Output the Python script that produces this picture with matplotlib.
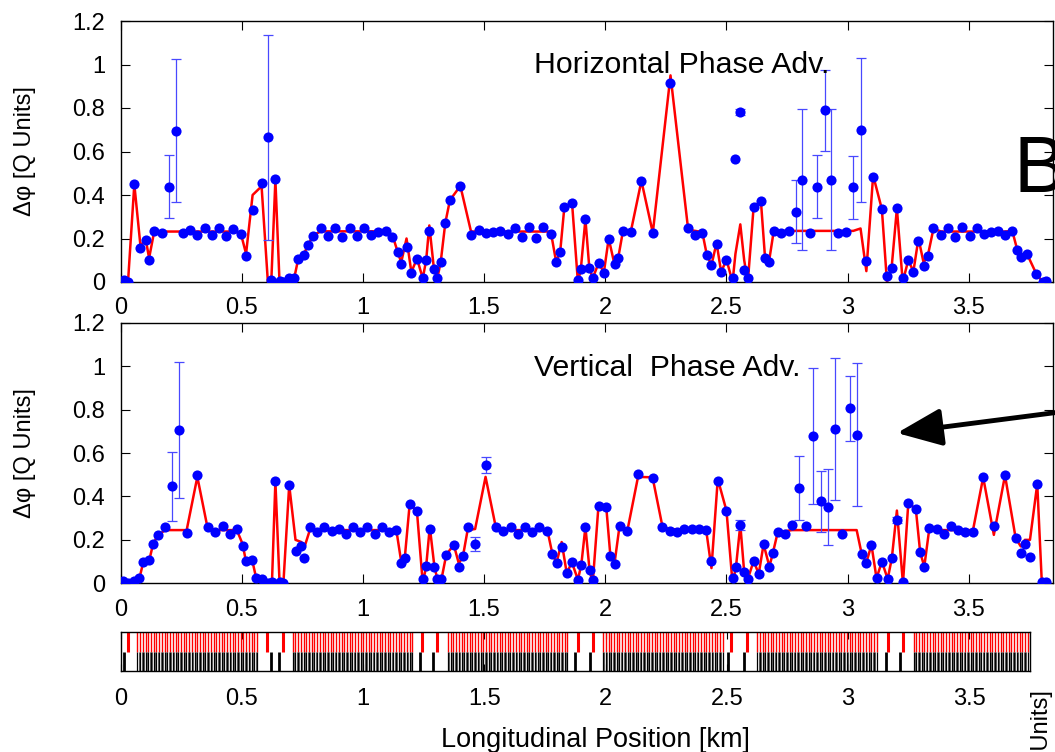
import numpy as np
import matplotlib
matplotlib.use('Agg')
import matplotlib.pyplot as plt
from matplotlib.patches import FancyArrowPatch

plt.rcParams['font.family'] = ['Liberation Sans', 'DejaVu Sans']

# ---- horizontal phase advance (top panel) ----
h_s = [0.014, 0.031, 0.057, 0.082, 0.105, 0.118, 0.139, 0.170, 0.199, 0.229,
       0.257, 0.287, 0.317, 0.347, 0.376, 0.406, 0.436, 0.466, 0.496, 0.518,
       0.545, 0.582, 0.608, 0.622, 0.639, 0.656, 0.670, 0.696, 0.717, 0.734,
       0.757, 0.774, 0.795, 0.827, 0.857, 0.885, 0.915, 0.945, 0.974, 1.004,
       1.034, 1.063, 1.094, 1.122, 1.143, 1.158, 1.180, 1.200, 1.223, 1.247,
       1.261, 1.274, 1.293, 1.307, 1.321, 1.340, 1.359, 1.402, 1.446, 1.477,
       1.506, 1.537, 1.567, 1.597, 1.626, 1.656, 1.686, 1.716, 1.744, 1.775,
       1.797, 1.814, 1.831, 1.863, 1.887, 1.899, 1.918, 1.934, 1.948, 1.973,
       1.994, 2.014, 2.038, 2.053, 2.073, 2.105, 2.149, 2.196, 2.269, 2.342,
       2.371, 2.400, 2.419, 2.438, 2.459, 2.478, 2.500, 2.525, 2.537, 2.557,
       2.573, 2.588, 2.612, 2.642, 2.659, 2.675, 2.695, 2.726, 2.757, 2.785,
       2.813, 2.844, 2.875, 2.905, 2.933, 2.961, 2.994, 3.023, 3.053, 3.077,
       3.105, 3.141, 3.162, 3.181, 3.203, 3.227, 3.250, 3.271, 3.292, 3.313,
       3.330, 3.354, 3.385, 3.414, 3.444, 3.473, 3.503, 3.533, 3.561, 3.590,
       3.620, 3.649, 3.679, 3.700, 3.717, 3.739, 3.778, 3.804, 3.820]
h_meas = [0.008, 0.0, 0.449, 0.158, 0.192, 0.103, 0.235, 0.223, 0.439, 0.696,
          0.224, 0.241, 0.214, 0.249, 0.214, 0.247, 0.212, 0.243, 0.22, 0.12,
          0.33, 0.453, 0.665, 0.008, 0.473, 0.005, 0.0, 0.017, 0.017, 0.108,
          0.124, 0.169, 0.212, 0.25, 0.21, 0.25, 0.207, 0.25, 0.212, 0.246,
          0.215, 0.23, 0.235, 0.207, 0.14, 0.084, 0.161, 0.04, 0.108, 0.017,
          0.1, 0.235, 0.061, 0.017, 0.092, 0.272, 0.376, 0.442, 0.215, 0.241,
          0.224, 0.229, 0.235, 0.22, 0.247, 0.209, 0.255, 0.201, 0.253, 0.22,
          0.094, 0.14, 0.343, 0.361, 0.008, 0.058, 0.289, 0.066, 0.017, 0.089,
          0.043, 0.2, 0.081, 0.109, 0.235, 0.23, 0.465, 0.226, 0.917, 0.246,
          0.215, 0.226, 0.124, 0.078, 0.177, 0.046, 0.103, 0.02, 0.567, 0.782,
          0.054, 0.017, 0.346, 0.372, 0.112, 0.091, 0.235, 0.224, 0.235, 0.323,
          0.47, 0.226, 0.439, 0.79, 0.47, 0.224, 0.23, 0.436, 0.70, 0.097,
          0.484, 0.335, 0.026, 0.063, 0.338, 0.02, 0.101, 0.048, 0.189, 0.074,
          0.118, 0.246, 0.214, 0.247, 0.207, 0.253, 0.21, 0.246, 0.22, 0.232,
          0.235, 0.217, 0.235, 0.146, 0.115, 0.131, 0.038, 0.002, 0.005]
h_model = [0.0, 0.0, 0.449, 0.17, 0.19, 0.11, 0.232, 0.232, 0.232, 0.232,
           0.232, 0.232, 0.232, 0.232, 0.232, 0.232, 0.232, 0.232, 0.225, 0.13,
           0.40, 0.44, 0.0, 0.0, 0.47, 0.0, 0.0, 0.017, 0.02, 0.11,
           0.13, 0.17, 0.215, 0.233, 0.233, 0.233, 0.233, 0.233, 0.233, 0.233,
           0.233, 0.233, 0.233, 0.215, 0.14, 0.09, 0.2, 0.045, 0.108, 0.017,
           0.1, 0.26, 0.061, 0.017, 0.092, 0.272, 0.376, 0.442, 0.232, 0.232,
           0.232, 0.232, 0.232, 0.232, 0.232, 0.232, 0.232, 0.232, 0.232, 0.232,
           0.094, 0.14, 0.343, 0.361, 0.0, 0.058, 0.289, 0.066, 0.017, 0.089,
           0.043, 0.2, 0.081, 0.109, 0.235, 0.23, 0.465, 0.226, 0.95, 0.24,
           0.235, 0.23, 0.124, 0.078, 0.18, 0.046, 0.103, 0.0, 0.13, 0.265,
           0.1, 0.0, 0.346, 0.372, 0.112, 0.091, 0.235, 0.235, 0.235, 0.235,
           0.235, 0.235, 0.235, 0.235, 0.235, 0.235, 0.235, 0.235, 0.246, 0.05,
           0.49, 0.335, 0.0, 0.063, 0.338, 0.0, 0.101, 0.048, 0.2, 0.09,
           0.118, 0.246, 0.232, 0.232, 0.232, 0.232, 0.232, 0.232, 0.232, 0.232,
           0.232, 0.232, 0.235, 0.146, 0.12, 0.131, 0.038, 0.0, 0.005]
h_eb_s = [0.199, 0.229, 0.608, 2.557, 2.785, 2.813, 2.875, 2.905, 2.933, 3.023, 3.053]
h_eb_err = [0.145, 0.33, 0.47, 0.012, 0.145, 0.325, 0.145, 0.187, 0.325, 0.145, 0.33]

# ---- vertical phase advance (bottom panel) ----
v_s = [0.011, 0.031, 0.054, 0.078, 0.094, 0.119, 0.135, 0.156, 0.185, 0.213,
       0.243, 0.273, 0.317, 0.361, 0.391, 0.422, 0.450, 0.480, 0.504, 0.516,
       0.543, 0.560, 0.582, 0.608, 0.625, 0.639, 0.656, 0.672, 0.696, 0.722,
       0.746, 0.757, 0.781, 0.810, 0.841, 0.871, 0.902, 0.932, 0.959, 0.989,
       1.018, 1.048, 1.080, 1.108, 1.138, 1.158, 1.173, 1.193, 1.223, 1.247,
       1.261, 1.276, 1.295, 1.307, 1.324, 1.344, 1.375, 1.396, 1.413, 1.432,
       1.463, 1.506, 1.548, 1.580, 1.611, 1.639, 1.669, 1.699, 1.728, 1.761,
       1.782, 1.799, 1.820, 1.841, 1.862, 1.887, 1.901, 1.918, 1.935, 1.948,
       1.972, 2.004, 2.021, 2.038, 2.059, 2.091, 2.135, 2.195, 2.236, 2.267,
       2.297, 2.326, 2.356, 2.385, 2.416, 2.438, 2.464, 2.500, 2.525, 2.539,
       2.557, 2.573, 2.588, 2.612, 2.633, 2.653, 2.677, 2.691, 2.712, 2.740,
       2.771, 2.799, 2.830, 2.857, 2.888, 2.919, 2.949, 2.978, 3.008, 3.037,
       3.058, 3.077, 3.098, 3.119, 3.141, 3.165, 3.182, 3.203, 3.228, 3.250,
       3.281, 3.299, 3.316, 3.337, 3.368, 3.397, 3.427, 3.457, 3.486, 3.517,
       3.559, 3.603, 3.649, 3.693, 3.714, 3.731, 3.752, 3.782, 3.801, 3.820]
v_meas = [0.012, 0.0, 0.011, 0.023, 0.097, 0.108, 0.183, 0.223, 0.26, 0.446,
          0.706, 0.231, 0.50, 0.26, 0.234, 0.263, 0.226, 0.249, 0.174, 0.103,
          0.108, 0.023, 0.018, 0.0, 0.008, 0.469, 0.008, 0.0, 0.452, 0.149,
          0.174, 0.118, 0.258, 0.238, 0.258, 0.242, 0.251, 0.228, 0.258, 0.238,
          0.258, 0.226, 0.26, 0.234, 0.245, 0.095, 0.115, 0.365, 0.331, 0.018,
          0.078, 0.249, 0.077, 0.02, 0.018, 0.132, 0.177, 0.077, 0.126, 0.26,
          0.182, 0.545, 0.26, 0.242, 0.258, 0.228, 0.258, 0.238, 0.26, 0.242,
          0.134, 0.095, 0.166, 0.046, 0.097, 0.017, 0.085, 0.26, 0.062, 0.014,
          0.358, 0.351, 0.126, 0.091, 0.266, 0.242, 0.503, 0.485, 0.26, 0.243,
          0.238, 0.249, 0.249, 0.249, 0.246, 0.103, 0.469, 0.334, 0.023, 0.074,
          0.269, 0.051, 0.02, 0.103, 0.043, 0.183, 0.077, 0.138, 0.238, 0.226,
          0.269, 0.438, 0.265, 0.678, 0.377, 0.351, 0.709, 0.229, 0.805, 0.685,
          0.134, 0.095, 0.177, 0.023, 0.1, 0.02, 0.115, 0.292, 0.008, 0.369,
          0.343, 0.143, 0.077, 0.254, 0.251, 0.229, 0.262, 0.246, 0.238, 0.238,
          0.488, 0.266, 0.497, 0.208, 0.138, 0.18, 0.123, 0.457, 0.005, 0.005]
v_model = [0.012, 0.0, 0.011, 0.023, 0.097, 0.108, 0.183, 0.223, 0.245, 0.245,
           0.245, 0.245, 0.49, 0.245, 0.245, 0.245, 0.245, 0.245, 0.18, 0.11,
           0.108, 0.023, 0.018, 0.0, 0.008, 0.469, 0.008, 0.0, 0.452, 0.2,
           0.19, 0.16, 0.245, 0.245, 0.245, 0.245, 0.245, 0.245, 0.245, 0.245,
           0.245, 0.245, 0.245, 0.245, 0.245, 0.1, 0.12, 0.365, 0.331, 0.0,
           0.078, 0.26, 0.077, 0.02, 0.018, 0.132, 0.177, 0.09, 0.126, 0.245,
           0.25, 0.49, 0.26, 0.245, 0.245, 0.245, 0.245, 0.245, 0.245, 0.245,
           0.134, 0.095, 0.19, 0.046, 0.097, 0.017, 0.085, 0.26, 0.062, 0.0,
           0.358, 0.351, 0.126, 0.091, 0.266, 0.242, 0.49, 0.488, 0.26, 0.249,
           0.249, 0.249, 0.249, 0.249, 0.246, 0.07, 0.48, 0.334, 0.0, 0.074,
           0.27, 0.051, 0.02, 0.103, 0.043, 0.18, 0.077, 0.138, 0.238, 0.24,
           0.245, 0.245, 0.245, 0.245, 0.245, 0.245, 0.245, 0.245, 0.245, 0.245,
           0.134, 0.095, 0.177, 0.023, 0.1, 0.02, 0.115, 0.335, 0.0, 0.369,
           0.343, 0.143, 0.077, 0.254, 0.245, 0.245, 0.245, 0.245, 0.245, 0.245,
           0.488, 0.223, 0.497, 0.208, 0.17, 0.2, 0.2, 0.457, 0.0, 0.005]
v_eb_s = [0.213, 0.243, 1.463, 1.506, 2.557, 2.799, 2.857, 2.888, 2.919, 2.949, 3.008, 3.037, 3.203]
v_eb_err = [0.157, 0.315, 0.032, 0.036, 0.022, 0.148, 0.313, 0.14, 0.175, 0.327, 0.15, 0.33, 0.015]

xticks = [0, 0.5, 1, 1.5, 2, 2.5, 3, 3.5]
xtick_labels = ['0', '0.5', '1', '1.5', '2', '2.5', '3', '3.5']
yticks = [0, 0.2, 0.4, 0.6, 0.8, 1.0, 1.2]
ytick_labels = ['0', '0.2', '0.4', '0.6', '0.8', '1', '1.2']

# ---- lattice strip (arcs with regular cells, insertion quads) ----
arc_start = [0.07, 0.71, 1.35, 1.99, 2.625, 3.27]
arc_end = [0.565, 1.205, 1.845, 2.485, 3.12, 3.75]
cell_spacing = 0.0112
ins_quads = [0.029, 0.605, 0.668, 1.245, 1.305, 1.885, 1.948, 2.518, 2.585, 3.165, 3.225]
ins_dipoles = [0.015, 0.62, 0.655, 1.235, 1.29, 1.875, 1.935, 2.505, 2.57, 3.155, 3.215]

W, H = 1055, 752
fig = plt.figure(figsize=(W / 100, H / 100), dpi=100)


def box(l, t, r, b):
    # pixel rectangle -> figure fraction
    return [l / W, 1 - b / H, (r - l) / W, (b - t) / H]


def panel(ax, s, meas, model, eb_s, eb_err, title, ty):
    s = np.asarray(s)
    meas = np.asarray(meas)
    ax.plot(s, model, color='#ff0000', lw=1.8, zorder=2)
    idx = np.searchsorted(s, eb_s)
    ax.errorbar(s[idx], meas[idx], yerr=eb_err, fmt='none', ecolor='#4848ff',
                elinewidth=0.9, capsize=3.5, capthick=0.9, zorder=3)
    ax.plot(s, meas, 'o', color='#0000ff', ms=7.3, mec='none', zorder=4)
    ax.set_xlim(0, 3.847)
    ax.set_ylim(0, 1.2)
    ax.set_xticks(xticks, xtick_labels)
    ax.set_yticks(yticks, ytick_labels)
    ax.tick_params(direction='in', length=6.5, width=0.8, top=True, right=True,
                   labelsize=17, pad=11)
    for sp in ax.spines.values():
        sp.set_linewidth(1.0)
    ax.set_ylabel('\u0394\u03c6 [Q Units]', fontsize=17)
    ax.yaxis.set_label_coords(-0.091, 0.5)
    ax.text(1.705, ty, title, fontsize=21.8, va='baseline', ha='left')


ax_h = fig.add_axes(box(120.5, 21, 1053, 282))
panel(ax_h, h_s, h_meas, h_model, h_eb_s, h_eb_err, 'Horizontal Phase Adv.', 0.96)

ax_v = fig.add_axes(box(120.5, 322.7, 1053, 583.3))
panel(ax_v, v_s, v_meas, v_model, v_eb_s, v_eb_err, 'Vertical  Phase Adv.', 0.955)

# lattice strip
ax_l = fig.add_axes(box(120.5, 632, 1030, 671))
for a, b in zip(arc_start, arc_end):
    q = np.arange(a, b, cell_spacing)
    ax_l.vlines(q, 0.5, 1.0, color='#ff0000', lw=1.0)
    ax_l.vlines(q, 0.0, 0.5, color='black', lw=0.9)
    ax_l.vlines(q[:-1] + cell_spacing / 2, 0.0, 0.5, color='#555555', lw=0.7)
ax_l.vlines(ins_quads, 0.5, 1.0, color='#ff0000', lw=2.2)
ax_l.vlines(ins_dipoles, 0.0, 0.5, color='black', lw=2.0)
ax_l.set_xlim(0, 3.75)
ax_l.set_ylim(0, 1)
ax_l.set_yticks([])
ax_l.set_xticks(xticks, xtick_labels)
ax_l.tick_params(direction='in', length=5, width=0.8, top=True, labelsize=17, pad=12)
for sp in ax_l.spines.values():
    sp.set_linewidth(1.0)

fig.text(595 / W, 1 - 747 / H, 'Longitudinal Position [km]', fontsize=19.5,
         ha='center', va='baseline')

# pieces of the composite figure around the plots
fig.text(1013 / W, 1 - 192 / H, 'B', fontsize=57, ha='left', va='baseline')
fig.text(1042 / W, 1 - 690 / H, '\u0394\u03c6 [Q Units]', rotation=90, fontsize=17,
         ha='center', va='top')
arrow = FancyArrowPatch((1060 / W, 1 - 412 / H), (897 / W, 1 - 433 / H),
                        transform=fig.transFigure,
                        arrowstyle='-|>,head_length=0.55,head_width=0.23',
                        mutation_scale=50, lw=3.5, color='black',
                        shrinkA=0, shrinkB=0)
fig.add_artist(arrow)

fig.savefig('out.png', dpi=100)
